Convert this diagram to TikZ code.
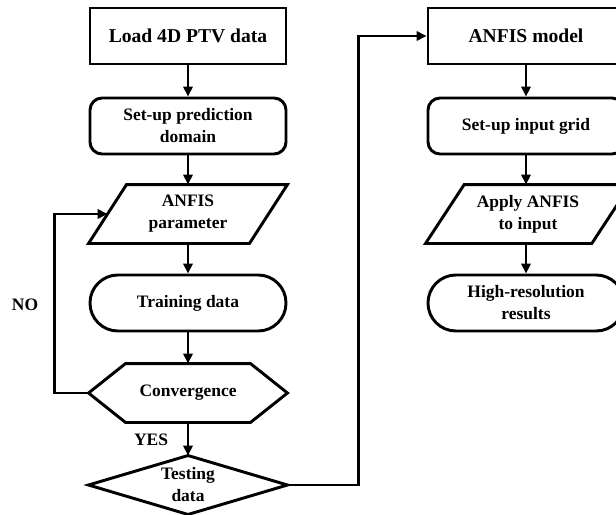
\documentclass[tikz,border=0pt]{standalone}
\usepackage{fontspec}
\setmainfont{Liberation Serif}
\usetikzlibrary{arrows.meta}
\begin{document}
\begin{tikzpicture}[x=0.75pt,y=-0.75pt,
  every node/.style={font=\bfseries\fontsize{13.1}{16.5}\selectfont, align=center, inner sep=0pt},
  shp/.style={line width=2.2pt, minimum width=147pt, minimum height=42pt},
  boxed/.style={shp, draw, rectangle},
  rbox/.style={shp, draw, rounded corners=9pt},
  pill/.style={shp, draw, rounded corners=20.9pt},
  ghost/.style={shp, draw=none},
  outline/.style={line width=2.2pt, line join=miter},
  flow/.style={line width=2.2pt, -{Triangle[length=7.5pt,width=7pt]}},
  title/.style={font=\bfseries\fontsize{14.7}{17}\selectfont}
]
\useasboundingbox (0,0) rectangle (616,514);
\clip (0,0) rectangle (616,514);

% training branch
\node[boxed, title] (load) at (188,36) {Load 4D PTV data};
\node[rbox] (dom) at (188,126) {Set-up prediction\\domain};
\node[ghost] (par) at (188,214) {ANFIS\\parameter};
\node[pill] (train) at (188,303) {Training data};
\node[ghost] (conv) at (188,393) {Convergence};
\node[ghost] (test) at (188,485) {Testing\\data};

% prediction branch
\node[boxed, title] (model) at (526,36) {ANFIS model};
\node[rbox] (grid) at (526,126) {Set-up input grid};
\node[ghost, minimum width=151.5pt] (apply) at (528,214) {Apply ANFIS\\to input};
\node[pill] (res) at (526,303) {High-resolution\\results};

% outlines of the non-rectangular symbols
\draw[outline] (par.south west) -- ([xshift=28.5pt]par.north west) -- (par.north east)
  -- ([xshift=-28.5pt]par.south east) -- cycle;
\draw[outline] (apply.south west) -- ([xshift=29pt]apply.north west) -- (apply.north east)
  -- ([xshift=-29pt]apply.south east) -- cycle;
\draw[outline] (conv.west) -- ([xshift=27.75pt]conv.north west) -- ([xshift=-27.75pt]conv.north east)
  -- (conv.east) -- ([xshift=-27.75pt]conv.south east) -- ([xshift=27.75pt]conv.south west) -- cycle;
\draw[outline] (test.west) -- (test.north) -- (test.east) -- (test.south) -- cycle;

% labels
\node (no) at (25,305) {NO};
\node (yes) at (151,440) {YES};

% connectors
\draw[flow] (load) -- (dom);
\draw[flow] (dom) -- (par);
\draw[flow] (par) -- (train);
\draw[flow] (train) -- (conv);
\draw[flow] (conv) -- (test);
\draw[flow] (conv.west) -- ++(-34,0) |- ([xshift=14.25pt]par.west);
\draw[flow] (test.east) -- ++(71,0) |- (model.west);
\draw[flow] (model) -- (grid);
\draw[flow] (grid) -- (apply.north -| grid.south);
\draw[flow] (apply.south -| grid.south) -- (res);
\end{tikzpicture}
\end{document}
